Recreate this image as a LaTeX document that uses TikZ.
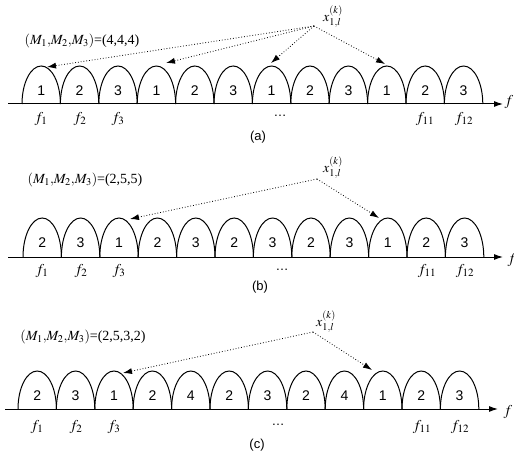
\documentclass[tikz,border=0pt]{standalone}
\usepackage{mathptmx}
\usepackage{fontspec}
\setmainfont{Liberation Serif}
\setsansfont{Liberation Sans}
\usetikzlibrary{arrows.meta}
\tikzset{
  arch/.style={line width=1pt},
  chan/.style={font=\sffamily\fontsize{14}{16}\selectfont},
  freq/.style={font=\fontsize{15}{17}\selectfont},
  mlabel/.style={font=\fontsize{14}{16}\selectfont},
  sub/.style={font=\sffamily\fontsize{13}{15}\selectfont},
  axisline/.style={line width=1pt,-{Latex[length=9pt,width=6pt]}},
  ptr/.style={dotted,line width=0.8pt,-{Latex[length=9pt,width=6pt]}},
}
\begin{document}
\begin{tikzpicture}[x=1pt,y=1pt]
	\useasboundingbox (0,0) rectangle (514,-457);
	% (a)
	\foreach \n [count=\i from 0] in {1,2,3,1,2,3,1,2,3,1,2,3}{
		\draw[arch] (22+38.4*\i,-104) arc (180:0:19.2 and 38);
		\node[chan] (a\i) at (41.2+38.4*\i,-91) {\n};
	}
	\coordinate (aL) at (8,-104);
	\coordinate (aR) at (503,-104);
	\draw[axisline] (aL)--(aR);
	\node[freq] (af) at (509,-102) {$f$};
	\node[freq] (af1) at (41,-119) {$f_1$};
	\node[freq] (af2) at (80,-119) {$f_2$};
	\node[freq] (af3) at (118,-119) {$f_3$};
	\node[freq] (af11) at (425,-119) {$f_{11}$};
	\node[freq] (af12) at (464,-119) {$f_{12}$};
	\node[sub] (adots) at (280,-116) {\dots};
	\node[sub] (acap) at (258,-137) {(a)};
	\node[mlabel] (aM) at (82,-41) {$(M_1{,}M_2{,}M_3)$=(4,4,4)};
	\node[mlabel] (ax) at (333,-17) {$x_{1,l}^{(k)}$};
	\coordinate (asrc) at (314,-26);
	\coordinate (at1) at (47,-67);
	\coordinate (at2) at (166,-63);
	\coordinate (at3) at (271,-63);
	\coordinate (at4) at (385,-64);
	\draw[ptr] (asrc)--(at1);
	\draw[ptr] (asrc)--(at2);
	\draw[ptr] (asrc)--(at3);
	\draw[ptr] (asrc)--(at4);
	% (b)
	\foreach \n [count=\i from 0] in {2,3,1,2,3,2,3,2,3,1,2,3}{
		\draw[arch] (23+38.4*\i,-257) arc (180:0:19.2 and 39);
		\node[chan] (b\i) at (42.2+38.4*\i,-243) {\n};
	}
	\coordinate (bL) at (8,-257);
	\coordinate (bR) at (503,-257);
	\draw[axisline] (bL)--(bR);
	\node[freq] (bf) at (512,-260) {$f$};
	\node[freq] (bf1) at (42,-271) {$f_1$};
	\node[freq] (bf2) at (81,-271) {$f_2$};
	\node[freq] (bf3) at (119,-271) {$f_3$};
	\node[freq] (bf11) at (427,-271) {$f_{11}$};
	\node[freq] (bf12) at (465,-271) {$f_{12}$};
	\node[sub] (bdots) at (282,-270) {\dots};
	\node[sub] (bcap) at (260,-287) {(b)};
	\node[mlabel] (bM) at (85,-180) {$(M_1{,}M_2{,}M_3)$=(2,5,5)};
	\node[mlabel] (bx) at (333,-168) {$x_{1,l}^{(k)}$};
	\coordinate (bsrc) at (317,-179);
	\coordinate (bt1) at (130,-219);
	\coordinate (bt2) at (379,-218);
	\draw[ptr] (bsrc)--(bt1);
	\draw[ptr] (bsrc)--(bt2);
	% (c)
	\foreach \n [count=\i from 0] in {2,3,1,2,4,2,3,2,4,1,2,3}{
		\draw[arch] (18+38.4*\i,-409) arc (180:0:19.2 and 38);
		\node[chan] (c\i) at (37.2+38.4*\i,-396) {\n};
	}
	\coordinate (cL) at (5,-409);
	\coordinate (cR) at (498,-409);
	\draw[axisline] (cL)--(cR);
	\node[freq] (cf) at (508,-412) {$f$};
	\node[freq] (cf1) at (37,-427) {$f_1$};
	\node[freq] (cf2) at (76,-427) {$f_2$};
	\node[freq] (cf3) at (114,-427) {$f_3$};
	\node[freq] (cf11) at (422,-427) {$f_{11}$};
	\node[freq] (cf12) at (460,-427) {$f_{12}$};
	\node[sub] (cdots) at (278,-425) {\dots};
	\node[sub] (ccap) at (257,-445) {(c)};
	\node[mlabel] (cM) at (83,-337) {$(M_1{,}M_2{,}M_3)$=(2,5,3,2)};
	\node[mlabel] (cx) at (326,-322) {$x_{1,l}^{(k)}$};
	\coordinate (csrc) at (313,-332);
	\coordinate (ct1) at (123,-373);
	\coordinate (ct2) at (372,-370);
	\draw[ptr] (csrc)--(ct1);
	\draw[ptr] (csrc)--(ct2);
\end{tikzpicture}
\end{document}
